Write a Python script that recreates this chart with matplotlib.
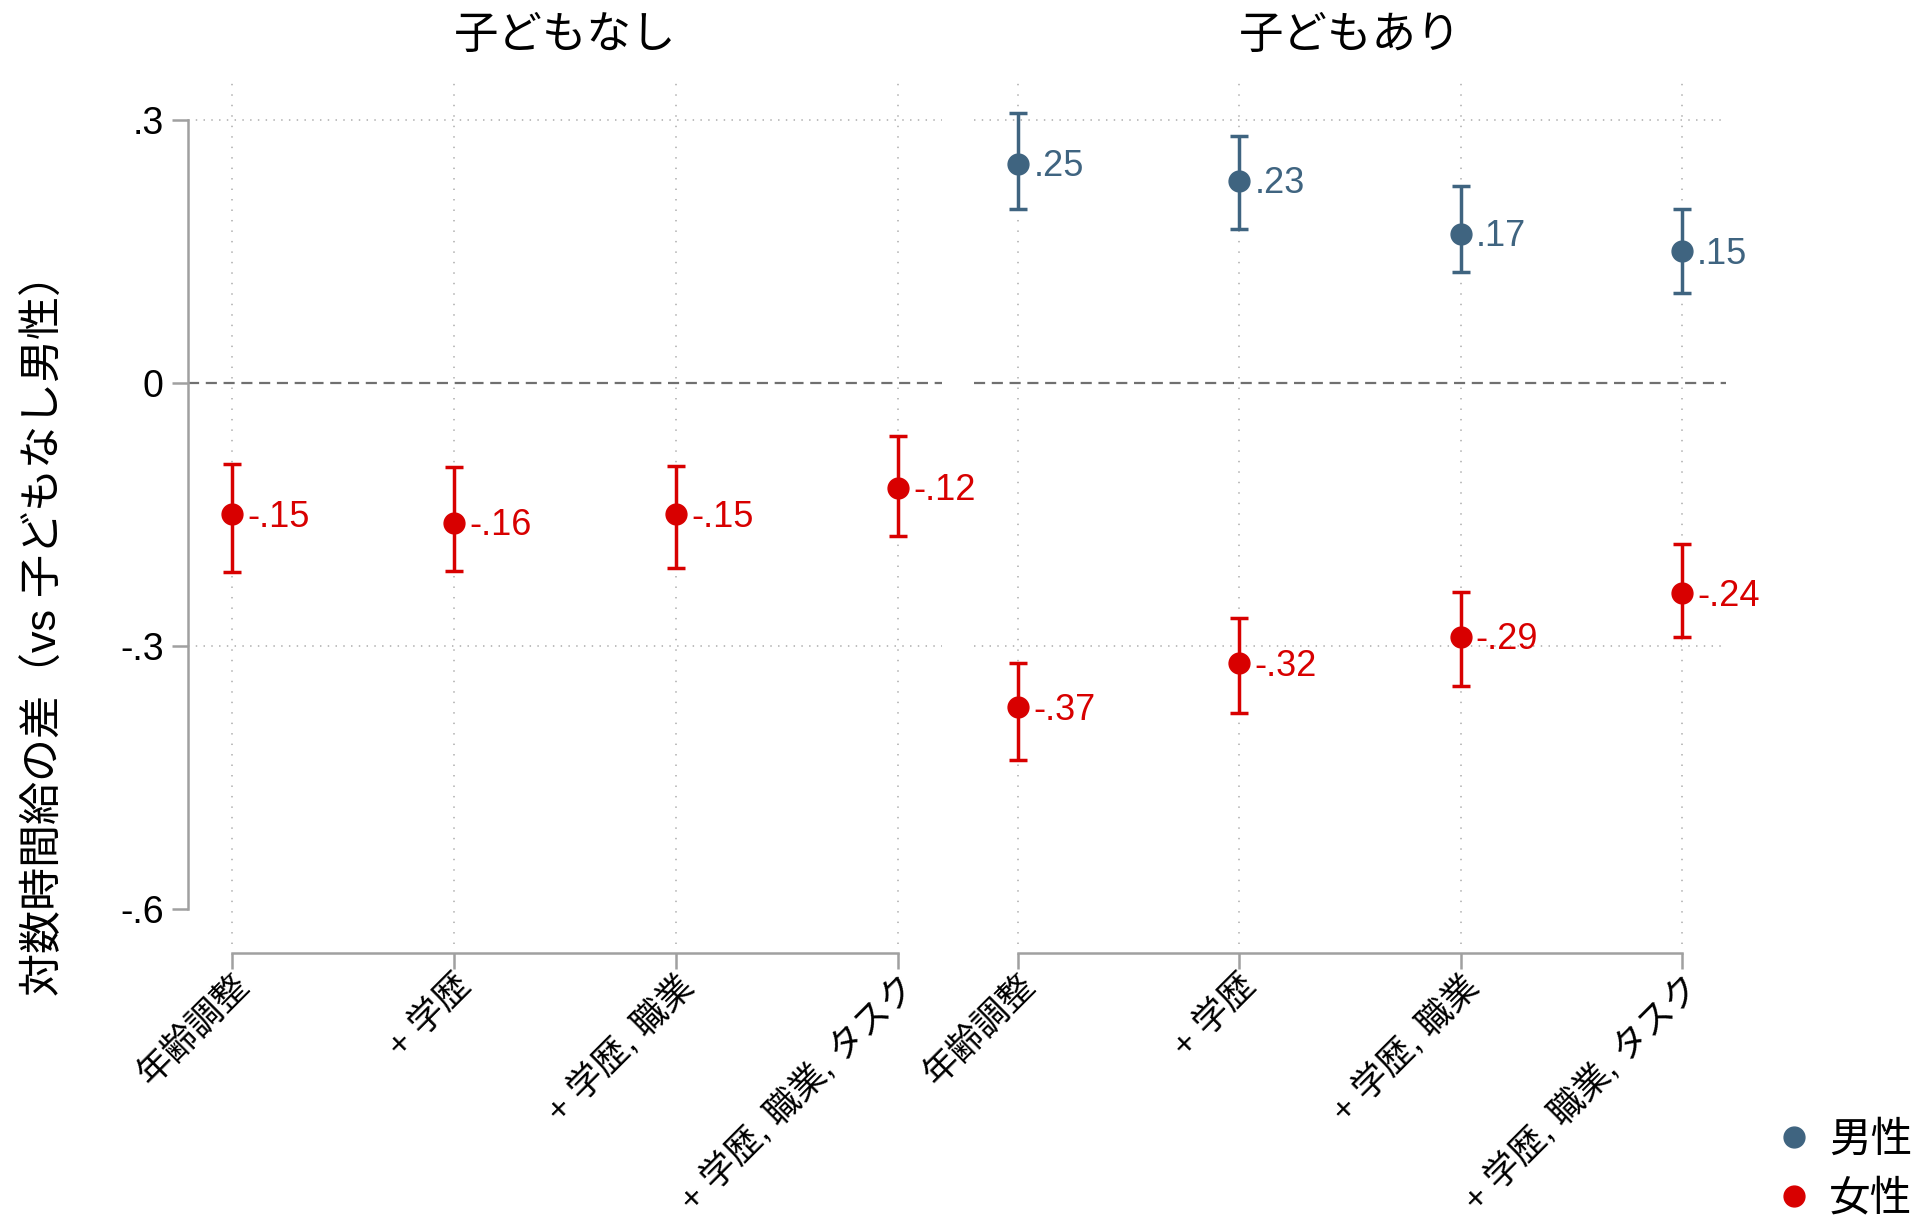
import numpy as np
import matplotlib
matplotlib.use("Agg")
import matplotlib.pyplot as plt
from matplotlib.lines import Line2D

plt.rcParams['font.family'] = ['Liberation Sans', 'Noto Sans CJK JP', 'DejaVu Sans']

# モデル (x軸)
models = ['年齢調整', '+ 学歴', '+ 学歴, 職業', '+ 学歴, 職業, タスク']
panels = ['子どもなし', '子どもあり']

# 子どもなし女性
nochild_f = [-0.15, -0.16, -0.15, -0.12]
nochild_f_lo = [-0.216, -0.215, -0.211, -0.175]
nochild_f_hi = [-0.092, -0.096, -0.095, -0.061]

# 子どもあり男性
child_m = [0.25, 0.23, 0.17, 0.15]
child_m_lo = [0.198, 0.176, 0.126, 0.103]
child_m_hi = [0.308, 0.281, 0.224, 0.198]

# 子どもあり女性
child_f = [-0.37, -0.32, -0.29, -0.24]
child_f_lo = [-0.430, -0.376, -0.346, -0.290]
child_f_hi = [-0.319, -0.268, -0.239, -0.184]

yticks = [0.3, 0, -0.3, -0.6]
ytick_labels = ['.3', '0', '-.3', '-.6']

c_male = '#3f6480'
c_female = '#d80000'
c_axis = '#a0a0a0'

W, H = 1919, 1219
fig = plt.figure(figsize=(W / 100, H / 100), dpi=100)


def px_axes(x0, x1, y0, y1):
    # ピクセル座標で軸を置く (y は上から)
    return fig.add_axes([x0 / W, 1 - y1 / H, (x1 - x0) / W, (y1 - y0) / H])


ax_l = px_axes(188, 942, 76, 944)
ax_r = px_axes(974, 1726, 76, 944)


def fmt(v):
    s = f'{v:.2f}'
    return s.replace('0.', '.')


def draw_series(ax, y, lo, hi, color):
    x = np.arange(len(y))
    y = np.array(y)
    err = [y - np.array(lo), np.array(hi) - y]
    ax.errorbar(x, y, yerr=err, fmt='o', color=color, ms=15, elinewidth=2.5,
                capsize=6.5, capthick=2.5, zorder=5)
    for xi, yi in zip(x, y):
        ax.annotate(fmt(yi), (xi, yi), xytext=(11, -2), textcoords='offset points',
                    ha='left', va='center', fontsize=26, color=color, zorder=6)


for ax, title in zip([ax_l, ax_r], panels):
    ax.set_xlim(-0.2, 3.2)
    ax.set_ylim(-0.64, 0.35)
    for xi in range(len(models)):
        ax.axvline(xi, color='#b8b8b8', lw=1.3, ls=(0, (0.8, 5)), zorder=1)
    for yv in [0.3, -0.3]:
        ax.axhline(yv, color='#b8b8b8', lw=1.3, ls=(0, (0.8, 3.5)), zorder=1)
    ax.axhline(0, color='#707070', lw=1.6, ls=(0, (5, 3)), zorder=2)
    ax.text(0.5, 1.045, title, transform=ax.transAxes, ha='center', va='center',
            fontsize=32)
    for s in ['top', 'right']:
        ax.spines[s].set_visible(False)
    ax.spines['bottom'].set_position(('outward', 6.5))
    ax.spines['bottom'].set_bounds(0, 3)
    ax.spines['bottom'].set_color(c_axis)
    ax.spines['bottom'].set_linewidth(1.8)
    ax.set_xticks(range(len(models)))
    ax.set_xticklabels(models, rotation=45, ha='right', va='top',
                       rotation_mode='anchor', fontsize=25.5)
    ax.tick_params(axis='x', length=11.5, width=1.8, color=c_axis, pad=0)
    ax.set_facecolor('none')

ax_l.spines['left'].set_bounds(-0.6, 0.3)
ax_l.spines['left'].set_color(c_axis)
ax_l.spines['left'].set_linewidth(1.8)
ax_l.set_yticks(yticks)
ax_l.set_yticklabels(ytick_labels, fontsize=27)
ax_l.tick_params(axis='y', length=11.5, width=1.8, color=c_axis, pad=6)

ax_r.spines['left'].set_visible(False)
ax_r.set_yticks([])

draw_series(ax_l, nochild_f, nochild_f_lo, nochild_f_hi, c_female)
draw_series(ax_r, child_m, child_m_lo, child_m_hi, c_male)
draw_series(ax_r, child_f, child_f_lo, child_f_hi, c_female)

fig.text(45 / W, 1 - 625 / H, '対数時間給の差（vs 子どもなし男性）', rotation=90,
         ha='center', va='center', fontsize=31)

handles = [Line2D([], [], ls='none', marker='o', ms=15, color=c_male),
           Line2D([], [], ls='none', marker='o', ms=15, color=c_female)]
fig.legend(handles, ['男性', '女性'], loc='lower right', bbox_to_anchor=(1.016, -0.031),
           frameon=False, fontsize=30, handletextpad=0.35, labelspacing=0.45,
           handlelength=1.0)

fig.savefig('out.png', dpi=100, facecolor='white')
